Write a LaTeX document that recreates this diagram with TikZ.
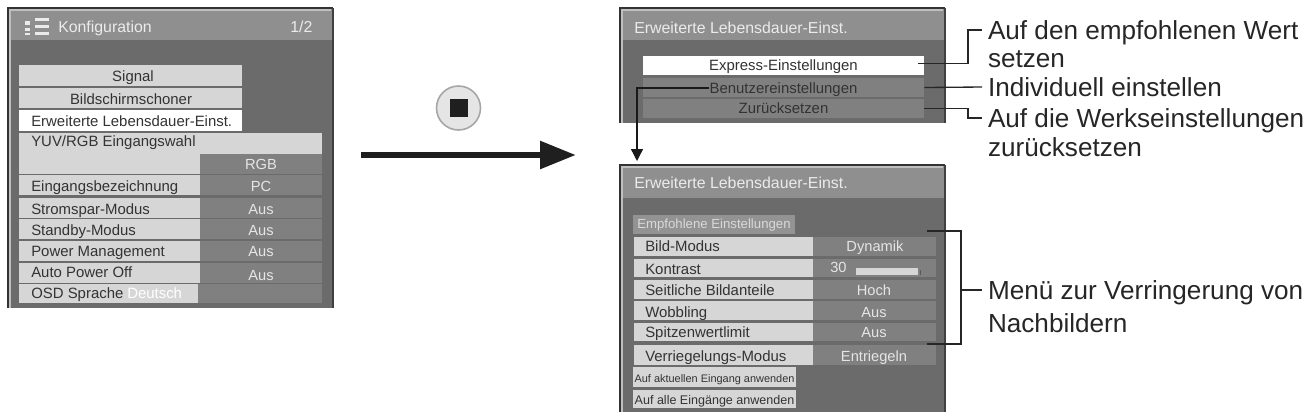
\documentclass[tikz,border=0pt]{standalone}
\usepackage{fontspec}
\setmainfont{Liberation Sans}
\usetikzlibrary{arrows.meta,positioning}

\definecolor{panelgray}{gray}{0.42}
\definecolor{titlegray}{gray}{0.56}
\definecolor{rowlight}{gray}{0.84}
\definecolor{rowdark}{gray}{0.50}
\definecolor{inktext}{gray}{0.2}

\tikzset{
  titletext/.style={anchor=west, inner sep=0pt, text height=8.4pt, text depth=0pt, text=white!92!black, font=\fontsize{11.9}{12}\selectfont},
  rowtext/.style={anchor=west, inner sep=0pt, text height=8pt, text depth=0pt, text=inktext, font=\fontsize{11.2}{12}\selectfont},
  midtext/.style={inner sep=0pt, text height=8pt, text depth=0pt, text=inktext, font=\fontsize{11.2}{12}\selectfont},
  valtext/.style={inner sep=0pt, text height=8pt, text depth=0pt, text=white!90!black, font=\fontsize{11}{12}\selectfont},
  rowfill/.style={inner sep=0pt, minimum width=211pt, minimum height=14.5pt},
  note/.style={anchor=west, inner ysep=0pt, inner xsep=0pt, outer xsep=4.5pt, text height=14pt, text depth=0pt, text=black!85, font=\fontsize{19.6}{20}\selectfont},
  leader/.style={draw=black!85, line width=1pt},
  panelside/.style={black!80, line width=1pt},
  panelshade/.style={black!75, line width=2pt},
  panellight/.style={white!75!black, line width=1pt},
}

\begin{document}
\begin{tikzpicture}[x=0.75pt,y=-0.75pt]

\useasboundingbox (0,0) rectangle (1309,415);

% left menu
\fill[panelgray] (8,8) rectangle (333,308);
\fill[titlegray] (8,8) rectangle (333,40);
\draw[panellight] (10,308) -- (10,10) -- (331,10);
\draw[panelside] (8,308) -- (8,8) -- (333,8);
\draw[panelshade] (333,8) -- (333,308);

\fill[white!92!black] (25,21) rectangle (30,25);
\fill[white!92!black] (25,27.5) rectangle (30,31);
\fill[white!92!black] (25,32.5) rectangle (30,35);
\fill[white!92!black] (35,18) rectangle (49,21);
\fill[white!92!black] (35,25) rectangle (49,28);
\fill[white!92!black] (35,32) rectangle (49,35);
\node (cfgtitle) [titletext] at (58,27) {Konfiguration};
\node (cfgpage) [titletext] at (290,27) {1/2};

\fill[rowlight] (19,65) rectangle (242,86);
\fill[rowlight] (19,88) rectangle (242,108);
\fill[white] (19,110) rectangle (242,131);
\fill[rowlight] (19,133) rectangle (322,154);
\fill[rowlight] (19,154) rectangle (200,174);
\fill[rowlight] (19,175) rectangle (200,195);
\fill[rowdark] (200,154) rectangle (322,174);
\fill[rowdark] (200,175) rectangle (322,195);
\foreach \ya/\yb in {198/218,219/239,241/261,263/283}{
  \fill[rowlight] (19,\ya) rectangle (200,\yb);
  \fill[rowdark] (200,\ya) rectangle (322,\yb);
}
\fill[rowlight] (19,284) rectangle (198,303);
\fill[rowdark] (198,284) rectangle (322,303);

\node (signal) [midtext] at (133,76) {Signal};
\node (schoner) [midtext] at (131,99) {Bildschirmschoner};
\node (lebensdauer) [rowtext] at (31,121) {Erweiterte Lebensdauer-Einst.};
\node (yuv) [rowtext] at (31,141) {YUV/RGB Eingangswahl};
\node (eingang) [rowtext] at (31,186) {Eingangsbezeichnung};
\node (strom) [rowtext] at (31,209) {Stromspar-Modus};
\node (standby) [rowtext] at (31,230) {Standby-Modus};
\node (power) [rowtext] at (31,251) {Power Management};
\node (autooff) [rowtext] at (31,272) {Auto Power Off};
\node (osd) [rowtext] at (31,293) {OSD Sprache};
\node (osdval) [rowtext,text=white] at (127,293) {Deutsch};
\foreach \y/\t in {164/RGB,186/PC,209/Aus,230/Aus,251/Aus,275/Aus}{
  \node [valtext] at (261,\y) {\t};
}

% button and arrow
\node (stopkey) [circle,draw=black!35,line width=1.2pt,fill=black!10,minimum size=33pt,inner sep=0pt] at (458.5,108) {};
\node (stopmark) [rectangle,fill=black!88,minimum size=13.5pt,inner sep=0pt] at (stopkey) {};
\coordinate (arrowstart) at (361,155);
\coordinate (arrowend) at (576,155);
\draw[black!88,line width=5pt,-{Triangle[length=27pt,width=20pt]}] (arrowstart) -- (arrowend);

% top panel
\fill[panelgray] (620,8) rectangle (945,123);
\fill[titlegray] (620,8) rectangle (945,40);
\draw[panellight] (622,123) -- (622,10) -- (943,10);
\draw[panelside] (620,123) -- (620,8) -- (945,8);
\draw[panelshade] (945,8) -- (945,123);
\node (toptitle) [titletext] at (634,28) {Erweiterte Lebensdauer-Einst.};
\node (express) [midtext,rowfill,fill=white] at (783.5,65.5) {Express-Einstellungen};
\node (benutzer) [midtext,rowfill,fill=rowdark] at (783.5,87.5) {};
\node (zuruck) [midtext,rowfill,fill=rowdark] at (783.5,108.5) {Zurücksetzen};
\node (benutzertext) [midtext] at (783.5,88) {Benutzereinstellungen};

% bottom panel
\fill[panelgray] (620,165) rectangle (945,412);
\fill[titlegray] (620,165) rectangle (945,198);
\draw[panellight] (622,412) -- (622,167) -- (943,167);
\draw[panelside] (620,412) -- (620,165) -- (945,165);
\draw[panelshade] (945,165) -- (945,412);
\node (bottomtitle) [titletext] at (634,183) {Erweiterte Lebensdauer-Einst.};
\fill[rowdark!85!white] (633,215) rectangle (795,234);
\node (empf) [rowtext,text=white!85!black,font=\fontsize{9.9}{11}\selectfont] at (637,223) {Empfohlene Einstellungen};
\foreach \ya/\yb in {237/256,259/277,280/299,301/320,323/341,345/365}{
  \fill[rowlight] (634,\ya) rectangle (813,\yb);
  \fill[rowdark] (813,\ya) rectangle (936,\yb);
}
\node (bild) [rowtext] at (645,246) {Bild-Modus};
\node (kontrast) [rowtext] at (645,269) {Kontrast};
\node (seite) [rowtext] at (645,290) {Seitliche Bildanteile};
\node (wobbling) [rowtext] at (645,312) {Wobbling};
\node (spitzen) [rowtext] at (645,332) {Spitzenwertlimit};
\node (verriegel) [rowtext] at (645,356) {Verriegelungs-Modus};
\node (dynamik) [valtext] at (875,246) {Dynamik};
\node (dreissig) [valtext,anchor=west] at (830,267) {30};
\fill[rowlight] (856,268) rectangle (918,275);
\fill[black!65] (919.5,270) rectangle (921,275);
\node (hoch) [valtext] at (874,290) {Hoch};
\node (wobaus) [valtext] at (874,312) {Aus};
\node (spaus) [valtext] at (874,332) {Aus};
\node (entriegeln) [valtext] at (874,356) {Entriegeln};
\fill[rowlight] (633,367) rectangle (796,387);
\fill[rowlight] (633,390) rectangle (796,408);
\node (aktuell) [midtext,font=\fontsize{8.2}{9}\selectfont] at (714.5,377) {Auf aktuellen Eingang anwenden};
\node (alle) [midtext,font=\fontsize{9.4}{10}\selectfont] at (714.5,399) {Auf alle Eingänge anwenden};

% leaders and labels
\node (wert) [note] at (982,30) {Auf den empfohlenen Wert};
\node (setzen) [note] at (982,58) {setzen};
\node (indiv) [note] at (982,87) {Individuell einstellen};
\node (werk) [note] at (982,118) {Auf die Werkseinstellungen};
\node (werkb) [note] at (982,147) {zurücksetzen};
\node (menue) [note] at (982,290) {Menü zur Verringerung von};
\node (nachb) [note] at (982,323) {Nachbildern};

\coordinate (bracketup) at (927,231);
\coordinate (bracketlow) at (927,344);
\draw[leader] (express.east) ++(-6,-2) -| (968,30) -- (wert.west);
\draw[leader] (benutzer.east) -- (indiv.west);
\draw[leader] (zuruck.east) -| (968,118) -- (werk.west);
\draw[leader] (bracketup) -| (961,344) -- (bracketlow);
\draw[leader] (961,290) -- (menue.west);

\coordinate (droptip) at (637,161);
\draw[black!90,line width=1pt,-{Triangle[length=9pt,width=9pt]}] (benutzertext.west) -| (droptip);

\end{tikzpicture}
\end{document}
